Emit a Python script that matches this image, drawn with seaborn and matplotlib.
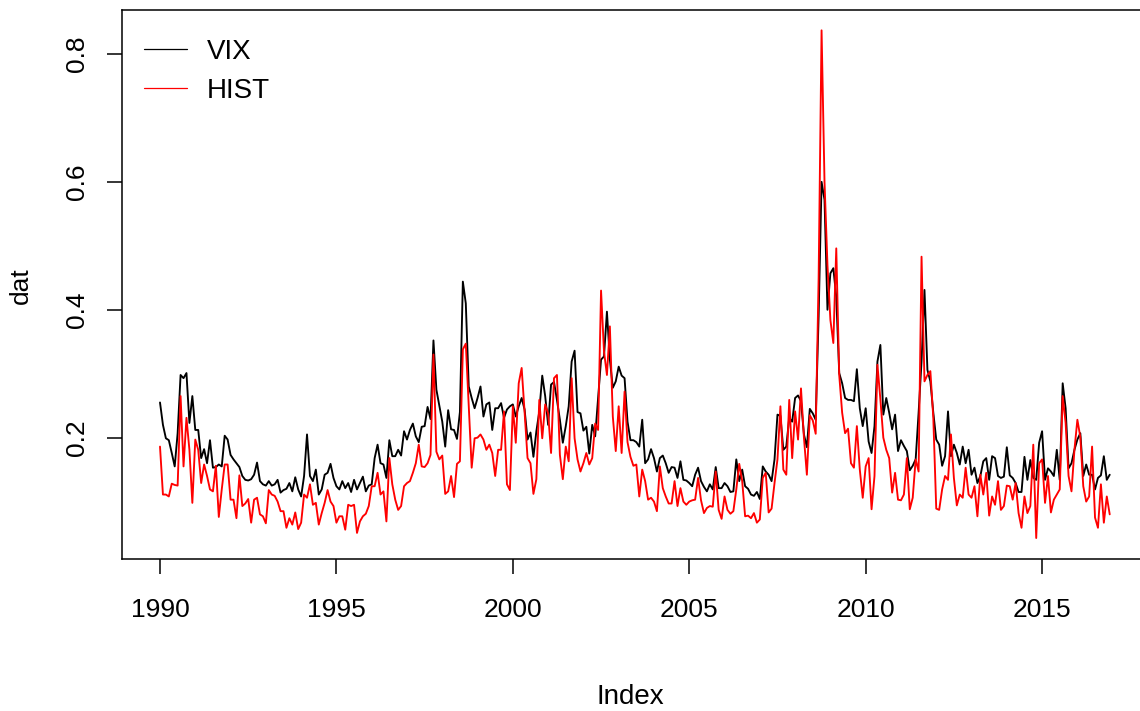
import numpy as np
import pandas as pd
import matplotlib
matplotlib.use("Agg")
import matplotlib.pyplot as plt
import seaborn as sns
from matplotlib.lines import Line2D

# ---------------- data (month-end values, Jan 1990 .. Dec 2016) ----------------
start_year = 1990
series_names = ["VIX", "HIST"]
series_colors = {"VIX": "black", "HIST": "red"}
x_ticks = [1990, 1995, 2000, 2005, 2010, 2015]
y_ticks = [0.2, 0.4, 0.6, 0.8]
y_tick_labels = ["0.2", "0.4", "0.6", "0.8"]

vix = [
    0.255, 0.220, 0.199, 0.196, 0.176, 0.155, 0.207, 0.298, 0.293, 0.301, 0.223, 0.265,  # 1990
    0.212, 0.212, 0.168, 0.182, 0.160, 0.196, 0.153, 0.154, 0.158, 0.155, 0.203, 0.197,  # 1991
    0.173, 0.166, 0.160, 0.154, 0.140, 0.134, 0.133, 0.135, 0.142, 0.161, 0.132, 0.127,  # 1992
    0.125, 0.132, 0.125, 0.127, 0.134, 0.114, 0.118, 0.120, 0.129, 0.116, 0.138, 0.119,  # 1993
    0.108, 0.140, 0.205, 0.140, 0.132, 0.150, 0.111, 0.119, 0.142, 0.145, 0.159, 0.137,  # 1994
    0.124, 0.119, 0.132, 0.121, 0.129, 0.115, 0.134, 0.119, 0.129, 0.139, 0.116, 0.125,  # 1995
    0.127, 0.168, 0.189, 0.160, 0.158, 0.137, 0.196, 0.171, 0.171, 0.181, 0.172, 0.210,  # 1996
    0.197, 0.212, 0.222, 0.202, 0.193, 0.217, 0.218, 0.248, 0.229, 0.352, 0.275, 0.250,  # 1997
    0.225, 0.186, 0.243, 0.213, 0.212, 0.198, 0.240, 0.444, 0.410, 0.280, 0.262, 0.246,  # 1998
    0.262, 0.280, 0.233, 0.252, 0.255, 0.212, 0.246, 0.246, 0.254, 0.231, 0.244, 0.249,  # 1999
    0.252, 0.233, 0.249, 0.262, 0.244, 0.197, 0.208, 0.170, 0.210, 0.241, 0.297, 0.265,  # 2000
    0.220, 0.283, 0.287, 0.259, 0.228, 0.192, 0.218, 0.249, 0.319, 0.336, 0.240, 0.238,  # 2001
    0.211, 0.217, 0.175, 0.220, 0.202, 0.262, 0.322, 0.327, 0.397, 0.322, 0.278, 0.288,  # 2002
    0.311, 0.297, 0.293, 0.225, 0.196, 0.196, 0.193, 0.186, 0.228, 0.160, 0.166, 0.182,  # 2003
    0.168, 0.147, 0.168, 0.172, 0.160, 0.145, 0.154, 0.153, 0.137, 0.163, 0.134, 0.133,  # 2004
    0.129, 0.124, 0.142, 0.153, 0.132, 0.123, 0.116, 0.127, 0.119, 0.154, 0.121, 0.121,  # 2005
    0.129, 0.124, 0.115, 0.116, 0.166, 0.132, 0.150, 0.124, 0.120, 0.111, 0.109, 0.115,  # 2006
    0.104, 0.155, 0.147, 0.142, 0.132, 0.166, 0.236, 0.234, 0.181, 0.186, 0.231, 0.225,  # 2007
    0.262, 0.266, 0.257, 0.205, 0.185, 0.245, 0.238, 0.228, 0.390, 0.600, 0.572, 0.400,  # 2008
    0.457, 0.465, 0.420, 0.301, 0.285, 0.262, 0.259, 0.259, 0.257, 0.307, 0.246, 0.218,  # 2009
    0.246, 0.194, 0.176, 0.218, 0.319, 0.345, 0.236, 0.262, 0.239, 0.213, 0.236, 0.179,  # 2010
    0.196, 0.187, 0.179, 0.149, 0.156, 0.166, 0.239, 0.319, 0.431, 0.306, 0.288, 0.239,  # 2011
    0.197, 0.189, 0.156, 0.171, 0.241, 0.171, 0.189, 0.176, 0.158, 0.186, 0.160, 0.181,  # 2012
    0.142, 0.153, 0.129, 0.140, 0.163, 0.168, 0.134, 0.171, 0.168, 0.140, 0.137, 0.139,  # 2013
    0.185, 0.141, 0.137, 0.129, 0.115, 0.115, 0.170, 0.134, 0.165, 0.137, 0.134, 0.192,  # 2014
    0.210, 0.134, 0.152, 0.147, 0.140, 0.181, 0.134, 0.285, 0.246, 0.152, 0.160, 0.181,  # 2015
    0.197, 0.207, 0.140, 0.158, 0.142, 0.142, 0.119, 0.137, 0.141, 0.171, 0.134, 0.142,  # 2016
]

hist = [
    0.186, 0.111, 0.111, 0.108, 0.128, 0.126, 0.125, 0.265, 0.155, 0.231, 0.181, 0.098,  # 1990
    0.197, 0.181, 0.129, 0.158, 0.140, 0.119, 0.116, 0.156, 0.076, 0.119, 0.158, 0.158,  # 1991
    0.103, 0.103, 0.074, 0.141, 0.093, 0.097, 0.104, 0.067, 0.103, 0.106, 0.080, 0.077,  # 1992
    0.066, 0.118, 0.111, 0.109, 0.100, 0.085, 0.085, 0.059, 0.074, 0.064, 0.083, 0.057,  # 1993
    0.067, 0.111, 0.106, 0.127, 0.095, 0.098, 0.064, 0.082, 0.098, 0.118, 0.100, 0.093,  # 1994
    0.067, 0.077, 0.077, 0.056, 0.095, 0.093, 0.095, 0.051, 0.069, 0.077, 0.081, 0.093,  # 1995
    0.124, 0.124, 0.145, 0.111, 0.116, 0.069, 0.168, 0.127, 0.103, 0.087, 0.093, 0.124,  # 1996
    0.129, 0.132, 0.145, 0.160, 0.189, 0.155, 0.154, 0.160, 0.173, 0.330, 0.178, 0.166,  # 1997
    0.172, 0.112, 0.116, 0.140, 0.107, 0.159, 0.163, 0.338, 0.347, 0.250, 0.153, 0.199,  # 1998
    0.200, 0.205, 0.197, 0.181, 0.189, 0.176, 0.140, 0.181, 0.181, 0.241, 0.127, 0.118,  # 1999
    0.249, 0.192, 0.285, 0.309, 0.240, 0.168, 0.160, 0.112, 0.135, 0.259, 0.199, 0.252,  # 2000
    0.238, 0.176, 0.293, 0.298, 0.173, 0.135, 0.186, 0.163, 0.293, 0.199, 0.166, 0.147,  # 2001
    0.160, 0.176, 0.158, 0.168, 0.222, 0.212, 0.430, 0.335, 0.298, 0.374, 0.233, 0.179,  # 2002
    0.249, 0.176, 0.272, 0.193, 0.170, 0.156, 0.158, 0.108, 0.150, 0.132, 0.103, 0.106,  # 2003
    0.100, 0.085, 0.155, 0.121, 0.108, 0.097, 0.097, 0.132, 0.093, 0.121, 0.100, 0.095,  # 2004
    0.100, 0.102, 0.103, 0.137, 0.102, 0.082, 0.090, 0.093, 0.092, 0.147, 0.087, 0.073,  # 2005
    0.108, 0.087, 0.081, 0.085, 0.119, 0.159, 0.132, 0.077, 0.078, 0.074, 0.082, 0.067,  # 2006
    0.072, 0.137, 0.145, 0.083, 0.089, 0.129, 0.166, 0.249, 0.150, 0.142, 0.259, 0.168,  # 2007
    0.241, 0.197, 0.277, 0.200, 0.142, 0.235, 0.227, 0.206, 0.450, 0.837, 0.600, 0.470,  # 2008
    0.384, 0.348, 0.496, 0.298, 0.239, 0.207, 0.214, 0.160, 0.153, 0.218, 0.150, 0.106,  # 2009
    0.155, 0.168, 0.088, 0.140, 0.314, 0.260, 0.200, 0.181, 0.168, 0.114, 0.145, 0.103,  # 2010
    0.102, 0.111, 0.168, 0.088, 0.106, 0.166, 0.147, 0.483, 0.288, 0.298, 0.304, 0.231,  # 2011
    0.089, 0.087, 0.119, 0.140, 0.134, 0.205, 0.137, 0.094, 0.111, 0.106, 0.153, 0.111,  # 2012
    0.106, 0.124, 0.077, 0.142, 0.111, 0.145, 0.078, 0.108, 0.095, 0.132, 0.087, 0.093,  # 2013
    0.125, 0.124, 0.103, 0.129, 0.082, 0.059, 0.108, 0.082, 0.093, 0.189, 0.043, 0.160,  # 2014
    0.166, 0.098, 0.140, 0.083, 0.103, 0.111, 0.119, 0.265, 0.223, 0.140, 0.116, 0.181,  # 2015
    0.228, 0.201, 0.124, 0.100, 0.108, 0.186, 0.075, 0.059, 0.127, 0.067, 0.108, 0.080,  # 2016
]

# ---------------- build long-form table ----------------
n = len(vix)
t = start_year + np.arange(n) / 12.0
df = pd.DataFrame({
    "Index": np.concatenate([t, t]),
    "dat": np.array(vix + hist),
    "series": ["VIX"] * n + ["HIST"] * n,
})

# ---------------- styling ----------------
sns.set_theme(style="white")
plt.rcParams["font.family"] = ["Liberation Sans", "DejaVu Sans"]
plt.rcParams["text.color"] = "black"
plt.rcParams["axes.labelcolor"] = "black"
plt.rcParams["xtick.color"] = "black"
plt.rcParams["ytick.color"] = "black"

W, H = 1140, 711
fig = plt.figure(figsize=(W / 100, H / 100), dpi=100)
left, right, top, bottom = 122, 1147.7, 10, 559
ax = fig.add_axes([left / W, 1 - bottom / H, (right - left) / W, (bottom - top) / H])

sns.lineplot(
    data=df, x="Index", y="dat", hue="series", hue_order=series_names,
    palette=series_colors, estimator=None, linewidth=1.35, legend=False, ax=ax,
)

ax.set_xlim(1988.923, 2017.993)
ax.set_ylim(0.0102, 0.8688)
ax.set_xlabel("")
ax.set_ylabel("")

ax.set_xticks(x_ticks)
ax.set_xticklabels([str(v) for v in x_ticks], fontsize=19, color="black")
ax.set_yticks(y_ticks)
ax.set_yticklabels(y_tick_labels, fontsize=19, rotation=90, va="center", color="black")

ax.tick_params(axis="both", direction="out", length=10.8, width=1.1, color="black",
               labelcolor="black", bottom=True, left=True)
ax.tick_params(axis="x", pad=17)
ax.tick_params(axis="y", pad=13)

for s in ax.spines.values():
    s.set_visible(True)
    s.set_color("black")
    s.set_linewidth(1.1)
ax.grid(False)

# axis titles
fig.text(630 / W, 1 - 697 / H, "Index", ha="center", va="center", fontsize=20, color="black")
fig.text(21 / W, 1 - 286 / H, "dat", ha="center", va="center", rotation=90,
         fontsize=19, color="black")

# legend
handles = [Line2D([0], [0], color=series_colors[s], lw=0.9) for s in series_names]
leg = ax.legend(handles, series_names, loc="upper left", bbox_to_anchor=(0.0214, 0.947),
                frameon=False, fontsize=20, handlelength=1.55, handletextpad=0.72,
                borderpad=0, borderaxespad=0, labelspacing=0.45)
for txt in leg.get_texts():
    txt.set_color("black")

fig.savefig("out.png", dpi=100)
